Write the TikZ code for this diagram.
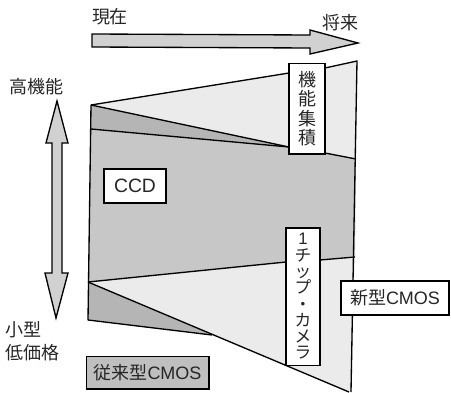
\documentclass[tikz,border=0pt]{standalone}
\usepackage{fontspec}
\setmainfont{Noto Sans CJK JP}
\newfontfamily\latinfont{Liberation Sans}
\begin{document}
\begin{tikzpicture}[x=0.75pt,y=-0.75pt,
  edge/.style={draw=black,line width=1pt,line join=round},
  lbl/.style={font=\fontsize{13.5}{15}\selectfont,inner sep=0pt,text=black!85},
  whitebox/.style={draw=black,line width=1pt,fill=white,inner sep=0pt},
  arrowfill/.style={draw=black,line width=1pt,fill=black!18,line join=miter}]
\useasboundingbox (0,0) rectangle (451,393);
\definecolor{lightreg}{gray}{0.92}
\definecolor{ccdreg}{gray}{0.78}
\definecolor{darkreg}{gray}{0.71}
% key points
\coordinate (A) at (91,105);
\coordinate (B) at (91,129);
\coordinate (C) at (88,282);
\coordinate (D) at (88,320);
\coordinate (T1) at (289,73);
\coordinate (T2) at (325,68);
\coordinate (TR) at (357,61);
\coordinate (M1) at (289,147);
\coordinate (M2) at (325,153);
\coordinate (M3) at (356,159);
\coordinate (L1) at (286,262);
\coordinate (L2) at (320,260);
\coordinate (L3) at (355,257);
\coordinate (BR) at (351,392);
\coordinate (BL) at (349,392);
\coordinate (E) at (212,335);
% fills
\fill[lightreg] (A) -- (T1) -- (T2) -- (TR) -- (M3) -- (M2) -- (M1) -- cycle;
\fill[darkreg] (A) -- (M1) -- (B) -- cycle;
\fill[ccdreg] (B) -- (M1) -- (M2) -- (M3) -- (L3) -- (L2) -- (L1) -- (C) -- cycle;
\fill[lightreg] (C) -- (L1) -- (L2) -- (L3) -- (BR) -- (BL) -- cycle;
\fill[darkreg] (C) -- (D) -- (E) -- cycle;
% outlines
\draw[edge] (A) -- (T1);
\draw[edge] (T2) -- (TR) -- (BR);
\draw[edge] (A) -- (D) -- (E);
\draw[edge] (A) -- (M1);
\draw[edge] (B) -- (M1);
\draw[edge] (M2) -- (M3);
\draw[edge] (C) -- (L1);
\draw[edge] (L2) -- (L3);
\draw[edge] (C) -- (BL);
% boxes
\node[whitebox,minimum width=27pt,minimum height=68pt] (kino) at (307,108.5) {};
\node[lbl,align=center,font=\fontsize{13.5}{14.6}\selectfont] (kinotxt) at (kino.center) {機\\能\\集\\積};
\node[whitebox,minimum width=25.5pt,minimum height=103pt] (chip) at (303,296.5) {};
\node[lbl,align=center,font=\fontsize{12.5}{12.2}\selectfont] (chiptxt) at (chip.center) {{\latinfont 1}\\チ\\ッ\\プ\\・\\カ\\メ\\ラ};
\node[whitebox,minimum width=46.5pt,minimum height=25.5pt] (ccd) at (135,186) {};
\node[lbl,font=\latinfont\fontsize{14.5}{15}\selectfont] (ccdtxt) at (ccd.center) {CCD};
\node[whitebox,minimum width=81pt,minimum height=25.5pt] (newcmos) at (395,298) {};
\node[lbl] (newtxt) at (newcmos.center) {新型{\latinfont CMOS}};
\node[whitebox,fill=black!25,minimum width=92pt,minimum height=24.5pt] (oldcmos) at (147.5,372.5) {};
\node[lbl] (oldtxt) at (oldcmos.center) {従来型{\latinfont CMOS}};
% top arrow
\draw[arrowfill] (92,34) -- (310,35) -- (310,30) -- (358,43) -- (310,54) -- (310,48) -- (92,47) -- cycle;
% vertical double arrow
\draw[arrowfill] (57,101) -- (68,143) -- (62,143) -- (62,273) -- (68,273) -- (56,318) -- (45,273) -- (52,273) -- (52,143) -- (46,143) -- cycle;
% labels
\node[lbl] (now) at (110,17) {現在};
\node[lbl] (future) at (340,23) {将来};
\node[lbl] (high) at (37,87) {高機能};
\node[lbl] (small) at (24,330) {小型};
\node[lbl] (cheap) at (33,353) {低価格};
\end{tikzpicture}
\end{document}
